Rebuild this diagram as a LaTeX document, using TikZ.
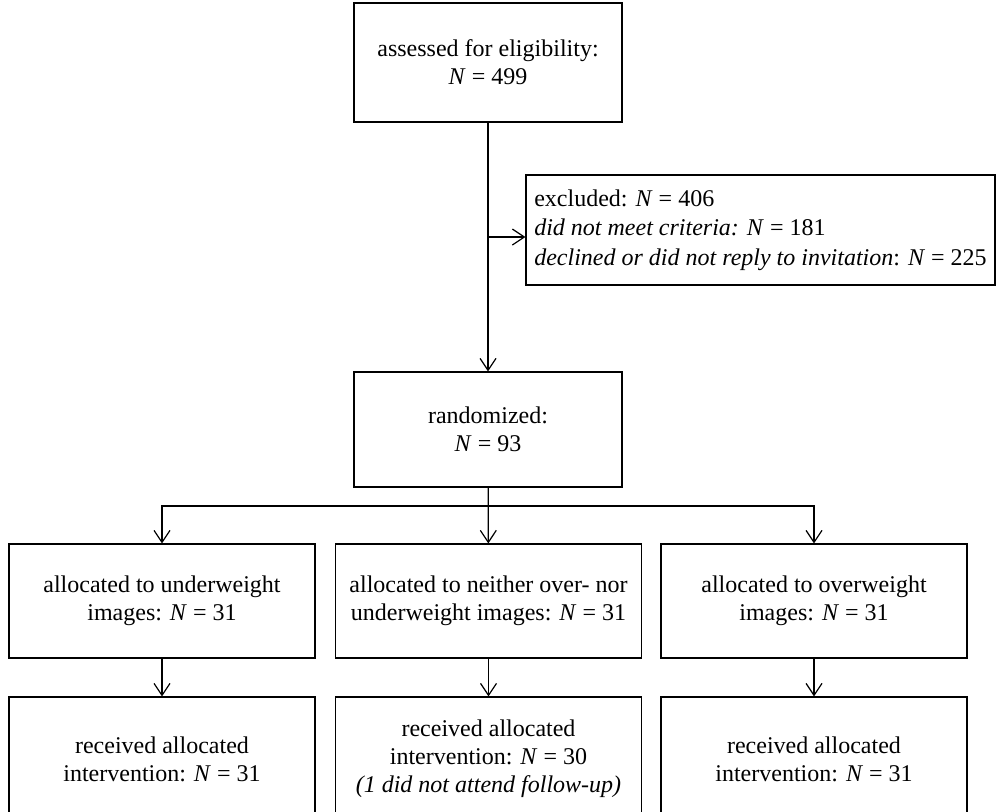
\documentclass[tikz,border=0pt]{standalone}
\usepackage{fontspec}
\setmainfont{Liberation Serif}
\usetikzlibrary{arrows.meta}

\begin{document}
\begin{tikzpicture}[x=0.5pt,y=-0.5pt,
    box/.style={rectangle, draw, line width=0.6pt, align=center, inner sep=2pt,
      font=\fontsize{12}{14}\selectfont},
    >={Straight Barb[length=6pt,width=8pt,line width=0.6pt]},
    line width=0.6pt]
      \clip (0,0) rectangle (999,811);

      \node at(488,62.5) [box, minimum width=134pt, minimum height=59.5pt] (assess)
        {assessed for eligibility:\\\textit{N} = 499};
      \node at(760.5,230) [box, align=left, font=\fontsize{12}{14.8}\selectfont,
        minimum width=234.5pt, minimum height=55pt] (excluded)
        {excluded: \textit{N} = 406\\
         \textit{did not meet criteria: N} = 181\\
         \textit{declined or did not reply to invitation}: \textit{N} = 225};
      \node at(488,429.5) [box, minimum width=134pt, minimum height=57.5pt] (random)
        {randomized:\\\textit{N} = 93};

      \node at(162,601) [box, minimum width=153pt, minimum height=57pt] (under)
        {allocated to underweight\\images: \textit{N} = 31};
      \node at(488.5,601) [box, minimum width=153pt, minimum height=57pt] (neither)
        {allocated to neither over- nor\\underweight images: \textit{N} = 31};
      \node at(814,601) [box, minimum width=153pt, minimum height=57pt] (over)
        {allocated to overweight\\images: \textit{N} = 31};

      \node at(162,759) [box, minimum width=153pt, minimum height=62pt] (under-rec)
        {received allocated\\intervention: \textit{N} = 31};
      \node at(488.5,759) [box, minimum width=153pt, minimum height=62pt] (neither-rec)
        {received allocated\\intervention: \textit{N} = 30\\\textit{(1 did not attend follow-up)}};
      \node at(814,759) [box, minimum width=153pt, minimum height=62pt] (over-rec)
        {received allocated\\intervention: \textit{N} = 31};

      \coordinate (split) at (488,237);
      \coordinate (fork) at (488,506);

      \draw[->]
      (assess) -- (random);
      \draw[->]
      (split) -- (excluded.west |- split);
      \draw[->]
      (random) -- (neither);
      \draw[->]
      (fork) -| (under);
      \draw[->]
      (fork) -| (over);
      \draw[->]
      (under) edge (under-rec)
      (neither) edge (neither-rec)
      (over) edge (over-rec);

    \end{tikzpicture}
\end{document}
